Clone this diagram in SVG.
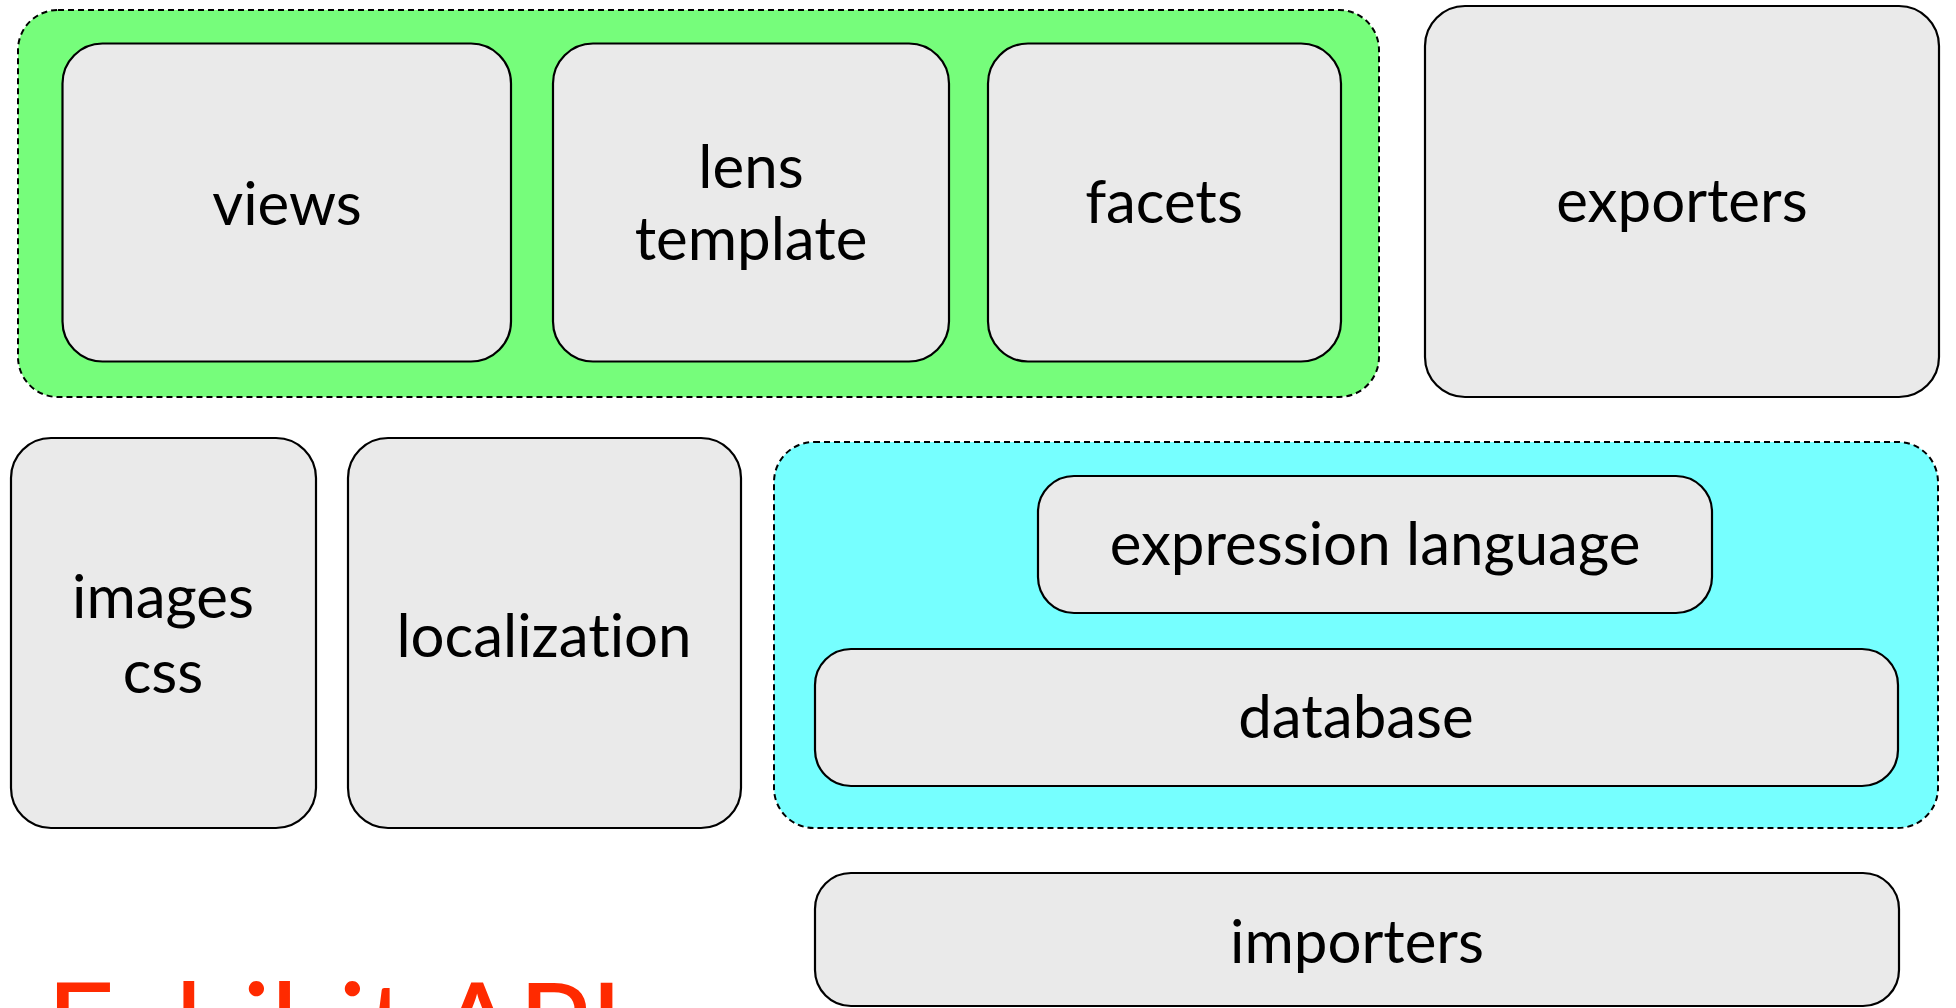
<svg xmlns="http://www.w3.org/2000/svg" width="1956" height="1008" viewBox="0 0 1956 1008">
<style>
.node{fill:#eaeaea;stroke:#000;stroke-width:2.2}
.grp{stroke:#000;stroke-width:2;stroke-dasharray:6 4}
.lbl{font-family:Lato,"Open Sans","Liberation Sans",sans-serif;font-size:60px;fill:#000;text-anchor:middle;font-variant-ligatures:none}
.title{font-family:Lato,"Liberation Sans",sans-serif;font-size:120px;fill:#ff2a00;font-variant-ligatures:none}
</style>
<rect width="1956" height="1008" fill="#fff"/>
<g id="ui-group"><rect class="grp" x="18" y="10" width="1361" height="387" rx="40" fill="#76fd7b"/></g>
<g id="data-group"><rect class="grp" x="774" y="442" width="1164" height="386" rx="40" fill="#76ffff"/></g>
<g id="views"><rect class="node" x="62.5" y="43.5" width="448.5" height="318" rx="40"/><text class="lbl" x="287" y="225">views</text></g>
<g id="lens-template"><rect class="node" x="553" y="43.5" width="396" height="318" rx="40"/><text class="lbl" x="751" y="188">lens</text><text class="lbl" x="751" y="260">template</text></g>
<g id="facets"><rect class="node" x="988" y="43.5" width="353" height="318" rx="40"/><text class="lbl" x="1164" y="223">facets</text></g>
<g id="exporters"><rect class="node" x="1425" y="6" width="514" height="391" rx="40"/><text class="lbl" x="1682" y="222">exporters</text></g>
<g id="images-css"><rect class="node" x="11" y="438" width="305" height="390" rx="40"/><text class="lbl" x="163" y="618">images</text><text class="lbl" x="163" y="693">css</text></g>
<g id="localization"><rect class="node" x="348" y="438" width="393" height="390" rx="40"/><text class="lbl" x="544" y="657">localization</text></g>
<g id="expression-language"><rect class="node" x="1038" y="476" width="674" height="137" rx="36"/><text class="lbl" x="1375" y="565">expression language</text></g>
<g id="database"><rect class="node" x="815" y="649" width="1083" height="137" rx="36"/><text class="lbl" x="1356" y="738">database</text></g>
<g id="importers"><rect class="node" x="815" y="873" width="1084" height="133" rx="36"/><text class="lbl" x="1357" y="963">importers</text></g>
<g id="connectors"></g>
<text class="title" x="46" y="1069">Exhibit API</text>
</svg>
